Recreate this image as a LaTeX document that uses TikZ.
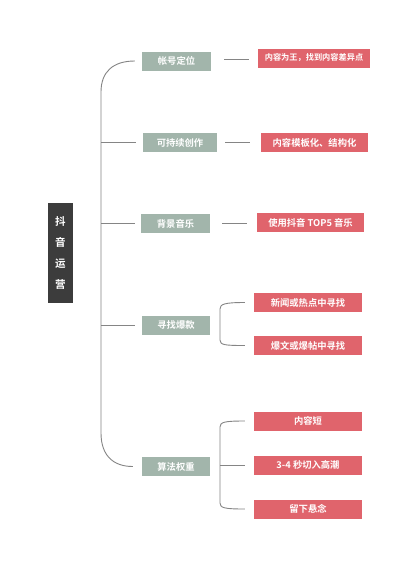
\documentclass[tikz,border=0pt]{standalone}
\usepackage{fontspec}
\setmainfont{Noto Sans CJK SC}[BoldFont={Noto Sans CJK SC Bold}]
\definecolor{rootc}{HTML}{3C3C3C}
\definecolor{branchc}{HTML}{A2B5AB}
\definecolor{leafc}{HTML}{E0646C}
\definecolor{linec}{HTML}{858585}
\begin{document}
\begin{tikzpicture}[x=1pt,y=-1pt,
  conn/.style={draw=linec,line width=0.9pt},
  rootbox/.style={fill=rootc,text=white,minimum width=25pt,minimum height=100pt,inner sep=0pt,align=center,font=\bfseries\fontsize{10.5}{21}\selectfont},
  branchbox/.style={fill=branchc,text=white,minimum height=19pt,inner sep=0pt,font=\bfseries\fontsize{9.3}{11}\selectfont},
  leafbox/.style={fill=leafc,text=white,minimum height=19pt,minimum width=108pt,inner sep=0pt,font=\bfseries\fontsize{9.3}{11}\selectfont}]
\useasboundingbox[fill=white] (0,0) rectangle (400,566);
% root
\node[rootbox] (root) at (60.5,253) {抖\\音\\运\\营};
% branches
\node[branchbox,minimum width=69pt] (b1) at (176.5,61) {帐号定位};
\node[branchbox,minimum width=74pt] (b2) at (180,142.5) {可持续创作};
\node[branchbox,minimum width=69pt] (b3) at (175.5,223.5) {背景音乐};
\node[branchbox,minimum width=68pt] (b4) at (176,325) {寻找爆款};
\node[branchbox,minimum width=68pt] (b5) at (176,466.5) {算法权重};
% leaves
\node[leafbox,minimum width=112pt,font=\bfseries\fontsize{8.2}{10}\selectfont] (l1) at (314,58) {内容为王，找到内容差异点};
\node[leafbox,minimum width=107pt] (l2) at (314.5,142.5) {内容模板化、结构化};
\node[leafbox,minimum width=107pt] (l3) at (310.5,222.5) {使用抖音 TOP5 音乐};
\node[leafbox] (l4) at (308,302.5) {新闻或热点中寻找};
\node[leafbox] (l5) at (308,345.5) {爆文或爆帖中寻找};
\node[leafbox] (l6) at (308,421) {内容短};
\node[leafbox] (l7) at (308,465) {3-4 秒切入高潮};
\node[leafbox] (l8) at (308,509) {留下悬念};
% trunk
\coordinate (tt) at (101,92);
\coordinate (tb) at (101,433);
\draw[conn] ([xshift=-7pt]b1.west) .. controls +(-22,0) and +(0,-20) .. (tt) -- (tb) .. controls +(0,22) and +(-20,0) .. ([xshift=-9pt]b5.west);
\draw[conn,shorten <=7pt] (b2.west) -- (b2.west -| tt);
\draw[conn,shorten <=6pt] (b3.west) -- (b3.west -| tt);
\draw[conn,shorten <=7pt] (b4.west) -- (b4.west -| tt);
% branch to leaf
\coordinate (m1) at (0,59);
\draw[conn,shorten <=13pt,shorten >=9pt] (b1.east |- m1) -- (l1.west |- m1);
\draw[conn,shorten <=8pt,shorten >=11pt] (b2.east) -- (b2.east -| l2.west);
\draw[conn,shorten <=12pt,shorten >=10pt] (b3.east) -- (b3.east -| l3.west);
% bracket 4
\coordinate (k4a) at (220,309);
\coordinate (k4b) at (220,340);
\draw[conn] ([xshift=-9pt]l4.west) .. controls +(-20,0) and +(0,-5) .. (k4a) -- (k4b) .. controls +(0,5) and +(-20,0) .. ([xshift=-9pt]l5.west);
% bracket 5
\coordinate (k5a) at (220,427);
\coordinate (k5b) at (220,503);
\coordinate (k5m) at (220,465);
\draw[conn] ([xshift=-9pt]l6.west) .. controls +(-20,0) and +(0,-5) .. (k5a) -- (k5b) .. controls +(0,5) and +(-20,0) .. ([xshift=-9pt]l8.west);
\draw[conn,shorten >=9pt] (k5m) -- (l7.west);
\end{tikzpicture}
\end{document}
